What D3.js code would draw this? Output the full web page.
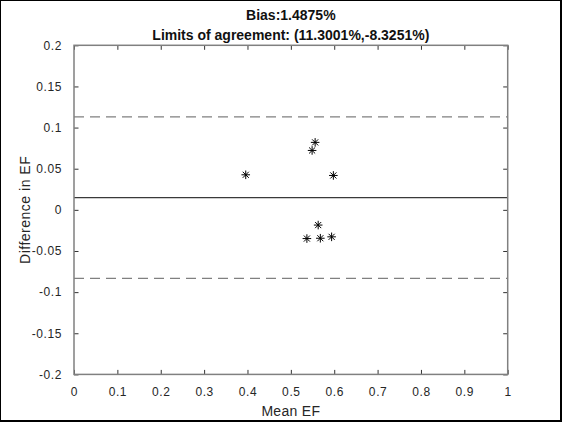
<!DOCTYPE html>
<html><head><meta charset="utf-8">
<script src="https://cdn.jsdelivr.net/npm/d3@7"></script>
<style>body{margin:0;background:#fff}svg{display:block}text{font-family:"Liberation Sans",Arial,sans-serif}</style>
</head><body>
<script>
const meanEF = [0.396, 0.549, 0.556, 0.598, 0.563, 0.537, 0.568, 0.594];
const diffEF = [0.0426, 0.0722, 0.0820, 0.0418, -0.0185, -0.0349, -0.0345, -0.0328];
const bias = 0.014875;
const limits = [0.113001, -0.083251];
const xTicks = [0,0.1,0.2,0.3,0.4,0.5,0.6,0.7,0.8,0.9,1];
const yTicks = [-0.2,-0.15,-0.1,-0.05,0,0.05,0.1,0.15,0.2];
const titleLines = ["Bias:1.4875%", "Limits of agreement: (11.3001%,-8.3251%)"];
const xLabel = "Mean EF", yLabel = "Difference in EF";

const W=562,H=422, L=74, R=507.7, T=45.3, B=374.4;
const svg=d3.select("body").append("svg").attr("width",W).attr("height",H);
const x=d3.scaleLinear().domain([0,1]).range([L,R]);
const y=d3.scaleLinear().domain([-0.2,0.2]).range([B,T]);
const tickCol="#333", axCol="#808080";

// reference lines
svg.append("line").attr("x1",L).attr("x2",R).attr("y1",y(bias)).attr("y2",y(bias)).attr("stroke","#3a3a3a").attr("stroke-width",1.2);
limits.forEach(v=>svg.append("line").attr("x1",L).attr("x2",R).attr("y1",y(v)).attr("y2",y(v))
  .attr("stroke","#808080").attr("stroke-width",1.4).attr("stroke-dasharray","10,6"));

// axes
function styleAxis(g){g.select(".domain").remove();g.selectAll(".tick line").attr("stroke",tickCol);
  g.selectAll("text").attr("fill","#262626").style("font-size","12px").attr("letter-spacing","0.6px");}
const fmt=d=>String(+d.toFixed(2));
svg.append("g").attr("transform",`translate(0,${B})`).call(d3.axisBottom(x).tickValues(xTicks).tickFormat(fmt).tickSizeInner(-4.5).tickSizeOuter(0).tickPadding(13)).call(styleAxis);
svg.append("g").attr("transform",`translate(0,${T})`).call(d3.axisTop(x).tickValues(xTicks).tickFormat("").tickSizeInner(-4.5).tickSizeOuter(0)).call(styleAxis);
svg.append("g").attr("transform",`translate(${L},0)`).call(d3.axisLeft(y).tickValues(yTicks).tickFormat(fmt).tickSizeInner(-4.5).tickSizeOuter(0).tickPadding(12)).call(styleAxis);
svg.append("g").attr("transform",`translate(${R},0)`).call(d3.axisRight(y).tickValues(yTicks).tickFormat("").tickSizeInner(-4.5).tickSizeOuter(0)).call(styleAxis);
svg.append("rect").attr("x",L).attr("y",T).attr("width",R-L).attr("height",B-T).attr("fill","none").attr("stroke",axCol).attr("stroke-width",1.5);

// markers (asterisks)
const s=4.3, d=s*0.707;
const star=`M${-s},0H${s}M0,${-s}V${s}M${-d},${-d}L${d},${d}M${-d},${d}L${d},${-d}`;
svg.selectAll("path.pt").data(meanEF).join("path").attr("class","pt")
  .attr("transform",(v,i)=>`translate(${x(v)},${y(diffEF[i])})`).attr("d",star)
  .attr("stroke","#000").attr("stroke-width",1).attr("fill","none");

// titles
svg.selectAll("text.title").data(titleLines).join("text").attr("class","title")
  .attr("x",(L+R)/2).attr("y",(d,i)=>19.5+i*20).attr("text-anchor","middle")
  .style("font-size","14px").style("font-weight","bold").attr("fill","#111").text(d=>d);
svg.append("text").attr("x",(L+R)/2).attr("y",416).attr("text-anchor","middle").style("font-size","14px").attr("fill","#262626").attr("letter-spacing","0.3px").text(xLabel);
svg.append("text").attr("transform",`translate(30,${(T+B)/2}) rotate(-90)`).attr("text-anchor","middle").style("font-size","14px").attr("fill","#262626").attr("letter-spacing","0.5px").text(yLabel);

// outer frame
svg.append("rect").attr("x",0.5).attr("y",0.5).attr("width",W-2).attr("height",H-2).attr("fill","none").attr("stroke","#000").attr("stroke-width",1);
svg.append("path").attr("d",`M${W-1},0V${H-1}H0`).attr("fill","none").attr("stroke","#000").attr("stroke-width",2);
</script>
</body></html>
